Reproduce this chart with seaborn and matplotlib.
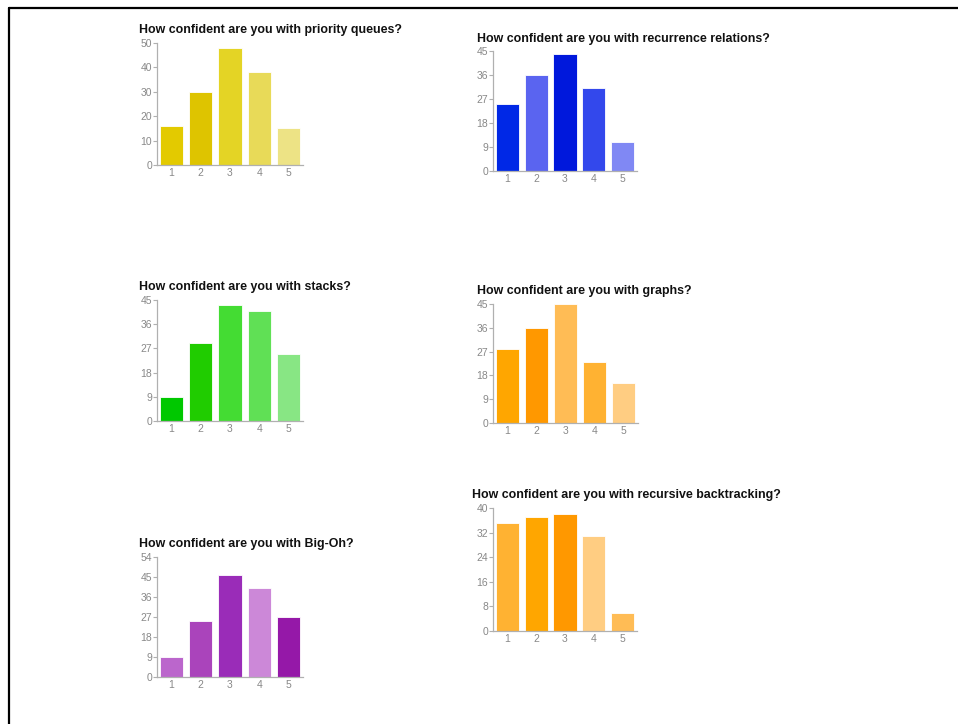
import matplotlib
matplotlib.use("Agg")
import matplotlib.pyplot as plt
from matplotlib.lines import Line2D
import seaborn as sns
import pandas as pd

sns.set_theme(style="white")
plt.rcParams['font.family'] = ['Liberation Sans', 'DejaVu Sans']

categories = ["1", "2", "3", "4", "5"]

titles = [
    "How confident are you with priority queues?",
    "How confident are you with recurrence relations?",
    "How confident are you with stacks?",
    "How confident are you with graphs?",
    "How confident are you with Big-Oh?",
    "How confident are you with recursive backtracking?",
]

priority_queues = [16, 30, 48, 38, 15]
recurrence_relations = [25, 36, 44, 31, 11]
stacks = [9, 29, 43, 41, 25]
graphs = [28, 36, 45, 23, 15]
big_oh = [9, 25, 46, 40, 27]
recursive_backtracking = [35, 37, 38, 31, 6]

y_max = [50, 45, 45, 45, 54, 40]
y_step = [10, 9, 9, 9, 9, 8]

colors_pq = ["#E3CA00", "#DEC400", "#E4D425", "#E8DA58", "#EDE385"]
colors_rr = ["#0028E6", "#5A64F0", "#0018DC", "#3348EC", "#8088F4"]
colors_st = ["#00C800", "#20CC00", "#44DC33", "#60E055", "#88E684"]
colors_gr = ["#FFA600", "#FF9800", "#FFBC55", "#FFB232", "#FFCD82"]
colors_bo = ["#BB66CC", "#AA44BB", "#9A2CB8", "#CC88D8", "#9518A8"]
colors_bt = ["#FFB232", "#FFA600", "#FF9800", "#FFCD82", "#FFBC55"]

series = [priority_queues, recurrence_relations, stacks, graphs, big_oh, recursive_backtracking]
palettes = [colors_pq, colors_rr, colors_st, colors_gr, colors_bo, colors_bt]

W, H = 958, 724
fig = plt.figure(figsize=(W / 100, H / 100), dpi=100)
fig.patch.set_facecolor("white")

# layout in pixels: (axis_x, y_top, y_zero, x_right, title_x, title_baseline)
layout = [
    (157, 43, 165, 303, 139, 33),
    (493, 51, 171, 637, 477, 42),
    (157, 300, 421, 303, 139, 290),
    (493, 304, 423, 638, 477, 294),
    (157, 557, 677, 303, 139, 547),
    (493, 508, 631, 637, 472, 498),
]

for i in range(6):
    ax_x, y_top, y_zero, x_right, tx, ty = layout[i]
    ax = fig.add_axes([ax_x / W, 1 - y_zero / H, (x_right - ax_x) / W, (y_zero - y_top) / H])
    df = pd.DataFrame({"cat": categories, "val": series[i]})
    sns.barplot(data=df, x="cat", y="val", hue="cat", palette=palettes[i],
                legend=False, width=0.8, saturation=1, ax=ax,
                edgecolor="white", linewidth=0.6)
    ax.set_xlim(-0.5, 4.5)
    ax.set_ylim(0, y_max[i])
    ax.set_yticks(list(range(0, y_max[i] + 1, y_step[i])))
    ax.set_xlabel("")
    ax.set_ylabel("")
    for s in ["top", "right"]:
        ax.spines[s].set_visible(False)
    for s in ["left", "bottom"]:
        ax.spines[s].set_color("#b0b0b0")
        ax.spines[s].set_linewidth(0.9)
    ax.tick_params(axis="y", length=3, width=0.8, color="#b0b0b0", labelsize=7.5,
                   labelcolor="#888888", pad=0.5, left=True)
    ax.tick_params(axis="x", length=0, labelsize=7.5, labelcolor="#888888", pad=2)
    ax.set_facecolor("white")
    fig.text(tx / W, 1 - ty / H, titles[i], fontsize=8.9, fontweight="bold",
             color="#111111", ha="left", va="baseline")

# page border lines (top and left)
fig.add_artist(Line2D([8.5 / W, 1.0], [1 - 7.5 / H, 1 - 7.5 / H], color="black", linewidth=1.6,
                      transform=fig.transFigure))
fig.add_artist(Line2D([8.5 / W, 8.5 / W], [0.0, 1 - 7.5 / H], color="black", linewidth=1.6,
                      transform=fig.transFigure))

fig.savefig("out.png", dpi=100, facecolor="white")
